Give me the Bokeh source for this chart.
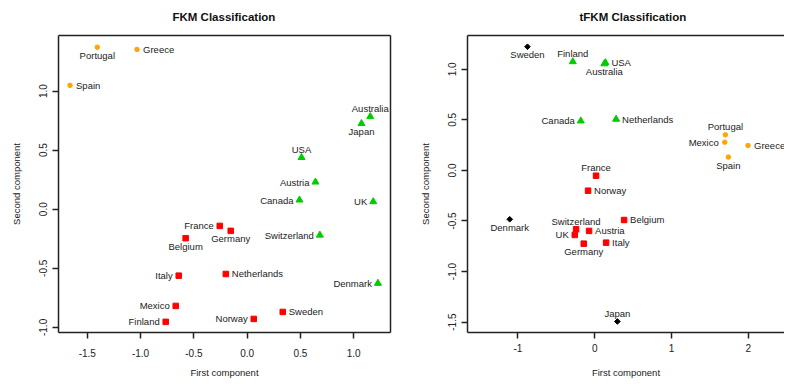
import numpy as np
from bokeh.plotting import figure
from bokeh.layouts import row
from bokeh.models import (Range1d, FixedTicker, NumeralTickFormatter, LinearAxis,
                          ColumnDataSource)
from bokeh.embed import file_html
from bokeh.resources import INLINE
from bokeh.core.properties import value

# ---------------- data ----------------
fkm_names = ["Portugal", "Greece", "Spain", "Australia", "Japan", "USA", "Austria", "Canada",
             "UK", "Switzerland", "Denmark", "France", "Germany", "Belgium", "Italy",
             "Netherlands", "Mexico", "Sweden", "Norway", "Finland"]
fkm_x = [-1.406, -1.033, -1.662, 1.155, 1.073, 0.510, 0.641, 0.491, 1.183, 0.682, 1.227,
         -0.257, -0.154, -0.577, -0.642, -0.200, -0.670, 0.334, 0.062, -0.764]
fkm_y = [1.371, 1.352, 1.048, 0.784, 0.725, 0.438, 0.230, 0.078, 0.064, -0.219, -0.627,
         -0.141, -0.183, -0.245, -0.562, -0.548, -0.818, -0.869, -0.928, -0.953]
fkm_cluster = [1, 1, 1, 2, 2, 2, 2, 2, 2, 2, 2, 3, 3, 3, 3, 3, 3, 3, 3, 3]
fkm_pos = [1, 4, 4, 3, 1, 3, 2, 2, 2, 2, 2, 2, 1, 1, 2, 4, 2, 4, 2, 2]

tfkm_names = ["Sweden", "Finland", "USA", "Australia", "Canada", "Netherlands", "Portugal",
              "Mexico", "Greece", "Spain", "France", "Norway", "Denmark", "Belgium",
              "Switzerland", "Austria", "UK", "Italy", "Germany", "Japan"]
tfkm_x = [-0.876, -0.286, 0.139, 0.125, -0.182, 0.278, 1.701, 1.693, 1.996, 1.740, 0.017,
          -0.087, -1.107, 0.382, -0.243, -0.074, -0.260, 0.148, -0.143, 0.295]
tfkm_y = [1.224, 1.076, 1.066, 1.055, 0.490, 0.507, 0.352, 0.280, 0.247, 0.132, -0.052,
          -0.200, -0.483, -0.490, -0.582, -0.598, -0.638, -0.714, -0.724, -1.494]
tfkm_cluster = [4, 2, 2, 2, 2, 2, 1, 1, 1, 1, 3, 3, 4, 3, 3, 3, 3, 3, 3, 4]
tfkm_pos = [1, 3, 4, 1, 2, 4, 3, 2, 4, 1, 3, 4, 1, 4, 3, 4, 2, 4, 1, 3]

fkm_xticks = [-1.5, -1.0, -0.5, 0.0, 0.5, 1.0]
fkm_yticks = [-1.0, -0.5, 0.0, 0.5, 1.0]
tfkm_xticks = [-1, 0, 1, 2]
tfkm_yticks = [-1.5, -1.0, -0.5, 0.0, 0.5, 1.0]

# ---------------- style ----------------
FONT = "Liberation Sans"
INK = "#222222"
LW = 1.5
FRAME_H = 297
cluster_style = {
    1: dict(marker="circle", color="#FFA500", size=4.5, angle=0.0),
    2: dict(marker="triangle", color="#00CD00", size=7, angle=0.0),
    3: dict(marker="square", color="#FF0000", size=5.5, angle=0.0),
    4: dict(marker="square", color="#000000", size=4, angle=np.pi / 4),
}
pos_style = {
    1: dict(x_offset=0, y_offset=8, text_align="center"),
    2: dict(x_offset=-6, y_offset=0, text_align="right"),
    3: dict(x_offset=0, y_offset=-8, text_align="center"),
    4: dict(x_offset=6, y_offset=0, text_align="left"),
}


def style_axis(ax, ticks, fmt, vertical=False, standoff=5, title_standoff=12):
    ax.ticker = FixedTicker(ticks=ticks)
    ax.formatter = NumeralTickFormatter(format=fmt)
    ax.minor_tick_line_color = None
    ax.major_tick_in = 0
    ax.major_tick_out = 6
    ax.major_tick_line_color = INK
    ax.major_tick_line_width = LW
    ax.axis_line_color = INK
    ax.axis_line_width = LW
    ax.major_label_text_font = FONT
    ax.major_label_text_font_size = "10px"
    ax.major_label_text_color = "#222222"
    ax.major_label_standoff = standoff
    ax.axis_label_text_font = FONT
    ax.axis_label_text_font_size = "9.5px"
    ax.axis_label_text_font_style = "normal"
    ax.axis_label_text_color = "#222222"
    ax.axis_label_standoff = title_standoff
    if vertical:
        ax.major_label_orientation = "vertical"


def edge_axis():
    # an axis that only draws the box edge
    return LinearAxis(ticker=FixedTicker(ticks=[]), major_tick_out=0, major_tick_in=0,
                      major_tick_line_color=None, minor_tick_line_color=None,
                      major_label_standoff=0, axis_line_color=INK, axis_line_width=LW)


def make_plot(title, names, xs, ys, clusters, poses, xr, yr, xticks, yticks,
              xfmt, yfmt, frame_w, border_left, border_right, right_edge, title_offset,
              xlab_standoff, xtitle_standoff):
    p = figure(frame_width=frame_w, frame_height=FRAME_H, output_backend="svg",
               toolbar_location=None, x_range=Range1d(*xr), y_range=Range1d(*yr),
               min_border_left=border_left, min_border_right=border_right,
               min_border_top=35, min_border_bottom=51)
    p.grid.visible = False
    p.background_fill_color = "white"
    p.border_fill_color = "white"
    p.outline_line_color = None
    p.title.text = title
    p.title.text_font = FONT
    p.title.text_font_size = "11.5px"
    p.title.text_font_style = "bold"
    p.title.text_color = "#111111"
    p.title.align = "left"
    p.title.offset = title_offset
    p.title.vertical_align = "top"
    p.title.standoff = 21
    p.xaxis.axis_label = "First component"
    p.yaxis.axis_label = "Second component"
    style_axis(p.xaxis[0], xticks, xfmt, standoff=xlab_standoff, title_standoff=xtitle_standoff)
    style_axis(p.yaxis[0], yticks, yfmt, vertical=True, standoff=5, title_standoff=15)
    p.add_layout(edge_axis(), "above")
    if right_edge:
        p.add_layout(edge_axis(), "right")

    names = np.array(names)
    xs = np.array(xs)
    ys = np.array(ys)
    clusters = np.array(clusters)
    poses = np.array(poses)

    for c, st in cluster_style.items():
        m = clusters == c
        if not m.any():
            continue
        src = ColumnDataSource(dict(x=xs[m], y=ys[m]))
        p.scatter("x", "y", source=src, marker=st["marker"], size=st["size"],
                  angle=st["angle"], fill_color=st["color"], line_color=st["color"])

    for k, st in pos_style.items():
        m = poses == k
        if not m.any():
            continue
        src = ColumnDataSource(dict(x=xs[m], y=ys[m], t=names[m]))
        p.text("x", "y", text="t", source=src, x_offset=st["x_offset"], y_offset=st["y_offset"],
               text_align=st["text_align"], text_baseline="middle",
               text_font=value(FONT), text_font_size="9.5px", text_color="#222222")
    return p


p1 = make_plot("FKM Classification", fkm_names, fkm_x, fkm_y, fkm_cluster, fkm_pos,
               (-1.77, 1.345), (-1.043, 1.47), fkm_xticks, fkm_yticks, "0.0", "0.0",
               frame_w=332, border_left=58, border_right=3, right_edge=True, title_offset=114,
               xlab_standoff=10, xtitle_standoff=7)
p2 = make_plot("tFKM Classification", tfkm_names, tfkm_x, tfkm_y, tfkm_cluster, tfkm_pos,
               (-1.657, 2.471), (-1.603, 1.335), tfkm_xticks, tfkm_yticks, "0", "0.0",
               frame_w=317, border_left=74, border_right=0, right_edge=False, title_offset=112,
               xlab_standoff=5, xtitle_standoff=12)

layout = row(p1, p2)
open("out.html", "w").write(file_html(layout, INLINE))
